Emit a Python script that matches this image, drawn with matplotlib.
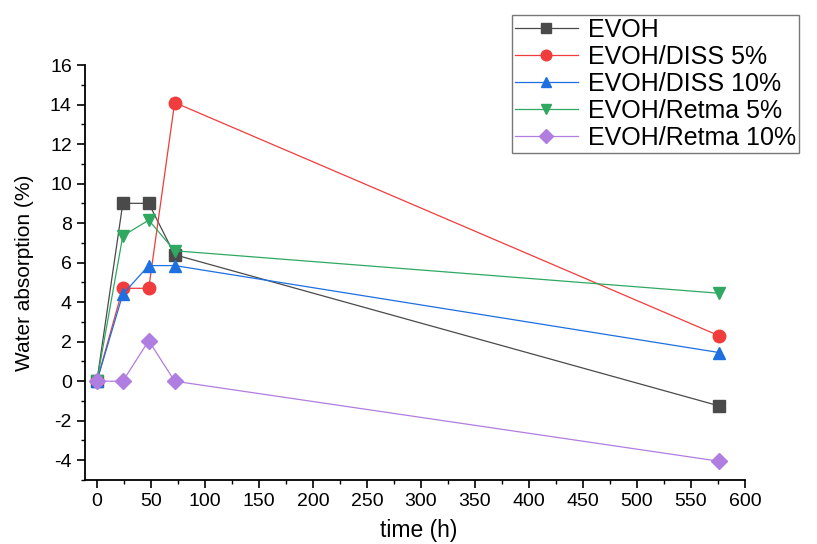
import matplotlib
matplotlib.use("Agg")
import matplotlib.pyplot as plt
from matplotlib.ticker import MultipleLocator

plt.rcParams['font.family'] = ['Liberation Sans', 'DejaVu Sans']
plt.rcParams['axes.unicode_minus'] = False

time_h = [0, 24, 48, 72, 576]
evoh = [0, 9.0, 9.0, 6.4, -1.25]
diss5 = [0, 4.7, 4.7, 14.1, 2.3]
diss10 = [0, 4.4, 5.85, 5.85, 1.45]
retma5 = [0, 7.35, 8.15, 6.6, 4.45]
retma10 = [0, 0, 2.05, 0, -4.05]

labels = ["EVOH", "EVOH/DISS 5%", "EVOH/DISS 10%", "EVOH/Retma 5%", "EVOH/Retma 10%"]
series = [evoh, diss5, diss10, retma5, retma10]
colors = ["#4a4a4a", "#f03c3c", "#1e6fe0", "#2fa862", "#b07de0"]
markers = ["s", "o", "^", "v", "D"]
msizes = [8, 9, 9, 9, 8]

fig = plt.figure(figsize=(8.17, 5.44), dpi=100)
ax = fig.add_axes([85/817, 1-480/544, (745-85)/817, (480-65)/544])

for y, lab, c, m, ms in zip(series, labels, colors, markers, msizes):
    ax.plot(time_h, y, color=c, marker=m, markersize=ms, linewidth=0.9, label=lab)

ax.set_xlim(-11, 600)
ax.set_ylim(-5, 16)
ax.xaxis.set_major_locator(MultipleLocator(50))
ax.xaxis.set_minor_locator(MultipleLocator(25))
ax.yaxis.set_major_locator(MultipleLocator(2))
ax.yaxis.set_minor_locator(MultipleLocator(1))
ax.spines['top'].set_visible(False)
ax.spines['right'].set_visible(False)
ax.spines['left'].set_linewidth(1.3)
ax.spines['bottom'].set_linewidth(1.3)
ax.tick_params(which='major', direction='out', length=5.5, width=1.2, labelsize=14, pad=4)
ax.tick_params(which='minor', direction='out', length=3, width=1.0)
ax.set_xlabel("time (h)", fontsize=16.5)
ax.set_ylabel("Water absorption (%)", fontsize=15)
ax.xaxis.set_label_coords(0.505, -0.094)
ax.yaxis.set_label_coords(-0.077, 0.5)

leg = fig.legend(loc='upper left', bbox_to_anchor=(512/817, 1-15/544), fontsize=18,
                 frameon=True, fancybox=False, edgecolor='#555555', handlelength=2.5,
                 borderpad=0.12, labelspacing=0.12, handletextpad=0.4, borderaxespad=0,
                 markerscale=0.85)
leg.get_frame().set_linewidth(1.0)

fig.savefig("out.png", dpi=100)
